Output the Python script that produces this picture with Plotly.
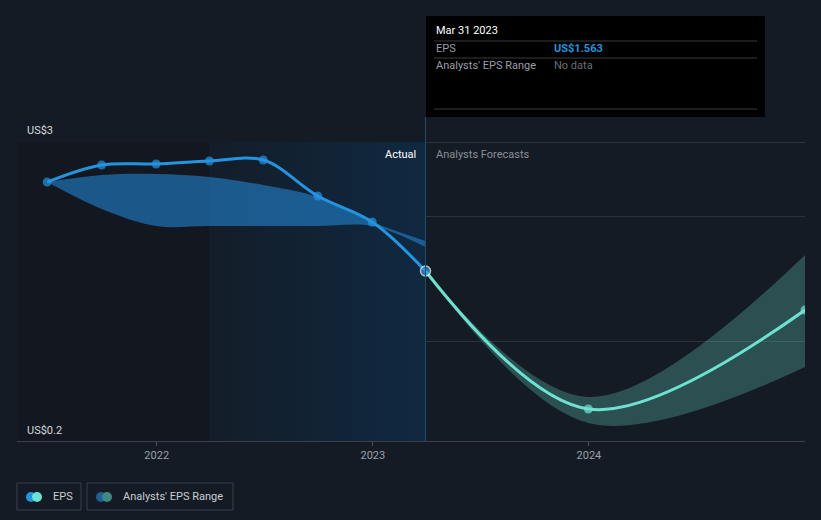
import plotly.graph_objects as go

# === data ===
eps_dates = ["2021-06-30", "2021-09-30", "2021-12-31", "2022-03-31",
             "2022-06-30", "2022-09-30", "2022-12-31", "2023-03-31"]
eps_vals = [2.554, 2.744, 2.755, 2.788, 2.799, 2.398, 2.109, 1.563]

past_high = [2.554, 2.633, 2.644, 2.610, 2.521, 2.387, 2.109, 1.897]
past_low = [2.554, 2.254, 2.064, 2.064, 2.064, 2.064, 2.064, 1.830]

fc_dates = ["2023-03-31", "2023-12-31", "2024-12-31"]
fc_vals = [1.563, 0.026, 1.128]
fc_high = [1.563, 0.159, 1.741]
fc_low = [1.563, -0.130, 0.494]

x_ticks = ["2022-01-01", "2023-01-01", "2024-01-01"]
x_labels = ["2022", "2023", "2024"]
grid_vals = [3, 2.165, 0.772]

y_min, y_max = -0.331, 3.2785
x_min, x_max = "2021-05-10", "2024-12-31"
highlight_start = "2022-03-31"
now_date = "2023-03-31"

BG = "#151b24"
BLUE = "#2394df"
TEAL = "#6ce3d0"
W, H = 821, 520
L, R, T, B = 17, 16, 117, 79
PW, PH = W - L - R, H - T - B


def px(x):
    return (x - L) / PW


def py(y):
    return (H - B - y) / PH


fig = go.Figure()

# dark region before the highlighted year
fig.add_trace(go.Scatter(
    x=[x_min, highlight_start, highlight_start, x_min, x_min],
    y=[3, 3, y_min, y_min, 3], fill="toself", mode="none",
    fillcolor="#13171f", hoverinfo="skip", showlegend=False))

# highlighted past year with horizontal gradient
fig.add_trace(go.Scatter(
    x=[highlight_start, now_date, now_date, highlight_start, highlight_start],
    y=[3, 3, y_min, y_min, 3], fill="toself", mode="none",
    fillgradient=dict(type="horizontal",
                      colorscale=[[0, "#141d29"], [1, "#0f2941"]]),
    hoverinfo="skip", showlegend=False))

# past analyst range
fig.add_trace(go.Scatter(x=eps_dates, y=past_low, mode="lines",
                         line=dict(width=0, shape="spline"),
                         hoverinfo="skip", showlegend=False))
fig.add_trace(go.Scatter(x=eps_dates, y=past_high, mode="lines",
                         line=dict(width=0, shape="spline"),
                         fill="tonexty", fillcolor="rgba(35,140,223,0.55)",
                         hoverinfo="skip", showlegend=False))

# forecast range
fig.add_trace(go.Scatter(x=fc_dates, y=fc_low, mode="lines",
                         line=dict(width=0, shape="spline"),
                         hoverinfo="skip", showlegend=False))
fig.add_trace(go.Scatter(x=fc_dates, y=fc_high, mode="lines",
                         line=dict(width=0, shape="spline"),
                         fill="tonexty", fillcolor="rgba(108,227,208,0.27)",
                         hoverinfo="skip", showlegend=False))

# forecast line
fig.add_trace(go.Scatter(x=fc_dates, y=fc_vals, mode="lines+markers",
                         line=dict(color=TEAL, width=3, shape="spline"),
                         marker=dict(size=[0, 9, 9], color=TEAL, line=dict(width=0)),
                         hoverinfo="skip", showlegend=False))

# EPS line
fig.add_trace(go.Scatter(x=eps_dates, y=eps_vals, mode="lines+markers",
                         line=dict(color=BLUE, width=3, shape="spline", smoothing=1.0),
                         marker=dict(size=[9] * 7 + [10], color=BLUE,
                                     line=dict(color=["rgba(0,0,0,0)"] * 7 + ["white"],
                                               width=[0] * 7 + [1.5])),
                         hoverinfo="skip", showlegend=False))

shapes = [
    # now line
    dict(type="line", xref="x", yref="paper", x0=now_date, x1=now_date,
         y0=0, y1=1, line=dict(color="#1f4a70", width=1)),
    # tooltip box
    dict(type="rect", xref="paper", yref="paper", x0=px(426), x1=px(765),
         y0=py(117), y1=py(16), fillcolor="#000000", line=dict(width=0), layer="above"),
]
for yy in (41, 58, 109):
    shapes.append(dict(type="line", xref="paper", yref="paper", x0=px(434), x1=px(757),
                       y0=py(yy), y1=py(yy), line=dict(color="#3a3a3a", width=1), layer="above"))

# legend boxes
for x0, x1, c1, c2 in ((17, 81, BLUE, TEAL), (87, 233, "#1f5f94", "#3e8a82")):
    shapes.append(dict(type="rect", xref="paper", yref="paper", x0=px(x0), x1=px(x1),
                       y0=py(510), y1=py(483), line=dict(color="#3a404c", width=1)))
    cx = x0 + 14
    for dx, col in ((0, c1), (6, c2)):
        shapes.append(dict(type="circle", xref="paper", yref="paper",
                           x0=px(cx + dx - 5), x1=px(cx + dx + 5),
                           y0=py(502), y1=py(492), fillcolor=col, line=dict(width=0)))

ann = [
    dict(text="US$3", x=px(25), y=py(130), xanchor="left", font=dict(color="#d5d9de", size=11)),
    dict(text="US$0.2", x=px(25), y=py(430), xanchor="left", font=dict(color="#d5d9de", size=11)),
    dict(text="Actual", x=px(418), y=py(154), xanchor="right", font=dict(color="#ffffff", size=11)),
    dict(text="Analysts Forecasts", x=px(434), y=py(154), xanchor="left",
         font=dict(color="#8a8f97", size=11)),
    dict(text="Mar 31 2023", x=px(434), y=py(31), xanchor="left", font=dict(color="#ffffff", size=11)),
    dict(text="EPS", x=px(434), y=py(49), xanchor="left", font=dict(color="#9a9ea5", size=11)),
    dict(text="<b>US$1.563</b>", x=px(552), y=py(49), xanchor="left", font=dict(color=BLUE, size=11)),
    dict(text="Analysts' EPS Range", x=px(434), y=py(66), xanchor="left",
         font=dict(color="#9a9ea5", size=11)),
    dict(text="No data", x=px(552), y=py(66), xanchor="left", font=dict(color="#6b6f75", size=11)),
    dict(text="EPS", x=px(51), y=py(496), xanchor="left", font=dict(color="#c8cdd4", size=11)),
    dict(text="Analysts' EPS Range", x=px(121), y=py(496), xanchor="left",
         font=dict(color="#c8cdd4", size=11)),
]
for a in ann:
    a.update(xref="paper", yref="paper", yanchor="middle", showarrow=False)

fig.update_layout(
    width=W, height=H,
    margin=dict(l=L, r=R, t=T, b=B),
    paper_bgcolor=BG, plot_bgcolor=BG,
    font=dict(family="Roboto, sans-serif", color="#c8cdd4", size=11),
    xaxis=dict(range=[x_min, x_max], type="date", tickvals=x_ticks, ticktext=x_labels,
               showgrid=False, zeroline=False, showline=True, linecolor="#3a3f4a",
               ticks="outside", ticklen=4, tickcolor="#4a505c",
               tickfont=dict(color="#9aa0a8", size=11)),
    yaxis=dict(range=[y_min, y_max], tickvals=grid_vals, showticklabels=False,
               gridcolor="#2c323d", zeroline=False),
    shapes=shapes, annotations=ann,
    hovermode=False, showlegend=False,
)

# page body has a default margin; drop it so the figure sits at 0,0
fig.write_html("out.html", config={"displayModeBar": False},
               post_script="document.body.style.margin='0';")
